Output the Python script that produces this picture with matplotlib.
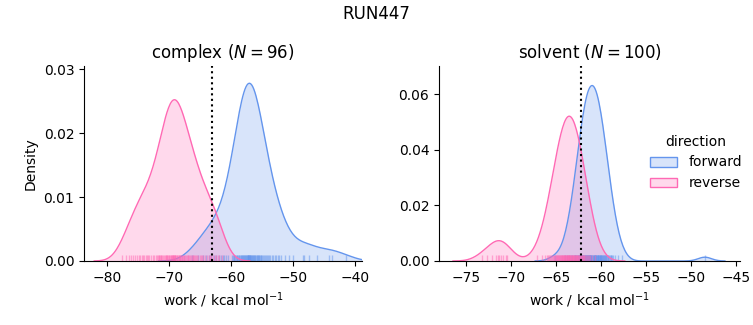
import matplotlib.pyplot as plt
import numpy as np
from matplotlib.colors import to_rgba
from matplotlib.patches import Patch

complex_forward = [-66.4, -65.3, -64.6, -64.1, -63.6, -63.2,
                   -62.8, -62.4, -62.0, -61.7, -61.4, -61.1, -60.8, -60.5,
                   -59.9, -59.75, -59.6, -59.5, -59.4, -59.25, -59.1, -59.0,
                   -58.85, -58.8, -58.75, -58.6, -58.5, -58.4, -58.3, -58.25, -58.15, -58.05,
                   -57.95, -57.9, -57.85, -57.75, -57.6, -57.55, -57.5, -57.4, -57.35, -57.3,
                   -57.3, -57.25, -57.2, -57.15, -57.1, -57.0, -56.95, -56.9, -56.85, -56.8, -56.7,
                   -56.6, -56.55, -56.45, -56.35, -56.25, -56.2, -56.1, -56.0, -55.9, -55.85,
                   -55.75, -55.65, -55.6, -55.5, -55.35, -55.25, -55.15, -55.1, -54.9, -54.75,
                   -54.5, -54.4, -54.15, -54.05, -53.9, -53.7,
                   -53.45, -53.2, -52.95, -52.7, -52.45, -52.25, -52.0,
                   -51.4, -50.7, -50.1, -48.4, -48.2, -47.5,
                   -46.2, -44.3, -43.8, -41.5]
complex_reverse = [-77.6,
                   -77.0, -76.5, -76.1, -75.8, -75.5,
                   -75.2, -74.9, -74.7, -74.4, -74.2, -74.0, -73.8, -73.6, -73.4,
                   -73.2, -73.0, -72.7, -72.4, -72.1, -71.95, -71.8, -71.7, -71.6, -71.5,
                   -71.4, -71.3, -71.2, -71.05, -70.85, -70.7, -70.6, -70.5, -70.4, -70.3, -70.2,
                   -70.1, -70.0, -69.9, -69.8,
                   -69.7, -69.6, -69.5, -69.45, -69.4, -69.35, -69.3, -69.2, -69.15, -69.1,
                   -69.0, -68.9, -68.8, -68.7, -68.6,
                   -68.5, -68.4, -68.3, -68.2, -68.1, -68.0, -67.9,
                   -67.8, -67.7, -67.6, -67.4, -67.3, -67.2, -67.0, -66.9, -66.8, -66.65, -66.5, -66.4,
                   -66.25, -66.1, -66.0,
                   -65.85, -65.7, -65.5, -65.3, -65.1, -64.9, -64.7, -64.5, -64.3,
                   -63.9, -63.6, -63.45, -63.3, -63.0, -62.7, -62.4, -62.2,
                   -62.0, -61.5]
solvent_forward = [-65.1, -64.0, -63.82, -63.55, -63.35, -63.20, -63.07, -62.96, -62.9,
                   -62.86, -62.78, -62.70, -62.63, -62.56, -62.50, -62.43, -62.37, -62.31, -62.26,
                   -62.21, -62.16, -62.11, -62.07, -62.01, -61.98, -61.94, -61.88, -61.85, -61.81,
                   -61.77, -61.73, -61.69, -61.65, -61.61, -61.59, -61.55, -61.51, -61.47, -61.43,
                   -61.40, -61.36, -61.34, -61.30, -61.26, -61.23, -61.20, -61.17, -61.13, -61.10,
                   -61.04, -61.00, -60.96,
                   -60.87, -60.83, -60.80, -60.77, -60.74, -60.70, -60.66, -60.64, -60.60, -60.57,
                   -60.53, -60.49, -60.45, -60.41, -60.39, -60.35, -60.31, -60.27, -60.23, -60.19,
                   -60.15, -60.12, -60.06, -60.02, -59.99, -59.93, -59.89, -59.84, -59.79, -59.74,
                   -59.69, -59.63, -59.57, -59.50, -59.44, -59.37, -59.30, -59.22, -59.14,
                   -59.04, -58.95, -58.93, -58.80, -58.65, -58.45, -58.18, -57.66, -48.5]
solvent_reverse = [-73.2, -72.7, -72.1, -71.7, -71.4, -71.3, -71.1, -70.9, -70.6, -70.4,
                   -67.16, -66.58, -66.27, -66.06, -65.90, -65.76, -65.64, -65.53, -65.44, -65.35,
                   -65.27, -65.19, -65.12, -65.05, -64.99, -64.92, -64.86, -64.81, -64.75, -64.70,
                   -64.64, -64.59, -64.54, -64.50, -64.45, -64.40, -64.36, -64.31, -64.27, -64.22,
                   -64.18, -64.14, -64.10, -64.06, -64.02, -63.98, -63.93, -63.89, -63.85, -63.82,
                   -63.78, -63.74, -63.70, -63.66, -63.62, -63.58, -63.54, -63.50, -63.46, -63.42,
                   -63.38, -63.32, -63.28, -63.24, -63.20, -63.16, -63.12, -63.08, -63.04, -63.00,
                   -62.96, -62.91, -62.86, -62.82, -62.78, -62.73, -62.69, -62.64, -62.60, -62.56,
                   -62.50, -62.45, -62.39, -62.35, -62.29, -62.24, -62.18, -62.12, -62.06, -62.01,
                   -61.94, -61.86, -61.79, -61.70, -61.61, -61.50, -61.37, -61.22, -61.02, -60.64]

complex_dg = -63.1   # dotted lines
solvent_dg = -62.2

colors = {"forward": "cornflowerblue", "reverse": "hotpink"}
n_total = len(complex_forward) + len(complex_reverse) + len(solvent_forward) + len(solvent_reverse)


def kde(values):
    # gaussian kde, scott bandwidth, densities normalised over all samples
    v = np.asarray(values)
    bw = v.std(ddof=1) * len(v) ** (-1 / 5)
    grid = np.linspace(v.min() - 3 * bw, v.max() + 3 * bw, 200)
    dens = np.exp(-0.5 * ((grid[:, None] - v[None, :]) / bw) ** 2).sum(axis=1)
    dens = dens / (len(v) * bw * np.sqrt(2 * np.pi))
    return grid, dens * len(v) / n_total


fig = plt.figure(figsize=(7.53, 3.25), dpi=100)
ax1 = fig.add_axes([84 / 753, 1 - 261 / 325, 278 / 753, 195 / 325])
ax2 = fig.add_axes([439 / 753, 1 - 261 / 325, 301 / 753, 195 / 325])

panels = [(ax1, "complex", {"forward": complex_forward, "reverse": complex_reverse}, complex_dg),
          (ax2, "solvent", {"forward": solvent_forward, "reverse": solvent_reverse}, solvent_dg)]

for ax, name, groups, dg in panels:
    for direction, vals in groups.items():
        c = colors[direction]
        x, y = kde(vals)
        ax.fill_between(x, 0, y, color=c, alpha=0.25, lw=0)
        ax.plot(x, y, color=c, lw=1)
        ax.vlines(vals, 0, 0.03, transform=ax.get_xaxis_transform(), color=c, alpha=0.5, lw=1)
    ax.axvline(dg, color="black", ls=":", lw=1.5)
    ax.set_title(f"{name} ($N={len(groups['forward'])}$)", fontsize=12)
    ax.set_xlabel("work / kcal mol$^{-1}$")
    ax.spines["top"].set_visible(False)
    ax.spines["right"].set_visible(False)

ax1.set_ylabel("Density")
ax1.set_xlim(-83.76, -38.9)
ax1.set_ylim(0, 0.0305)
ax1.set_xticks([-80, -70, -60, -50, -40])
ax1.set_yticks([0, 0.01, 0.02, 0.03])
ax2.set_xlim(-78.0, -44.6)
ax2.set_ylim(0, 0.0702)
ax2.set_xticks([-75, -70, -65, -60, -55, -50, -45])
ax2.set_yticks([0, 0.02, 0.04, 0.06])

handles = [Patch(facecolor=to_rgba(colors[d], 0.25), edgecolor=colors[d], label=d) for d in colors]
fig.legend(handles=handles, title="direction", loc="center left", bbox_to_anchor=(0.846, 0.5),
           frameon=False)
fig.suptitle("RUN447", fontsize=12, y=0.985)

fig.savefig("out.png", dpi=100)
